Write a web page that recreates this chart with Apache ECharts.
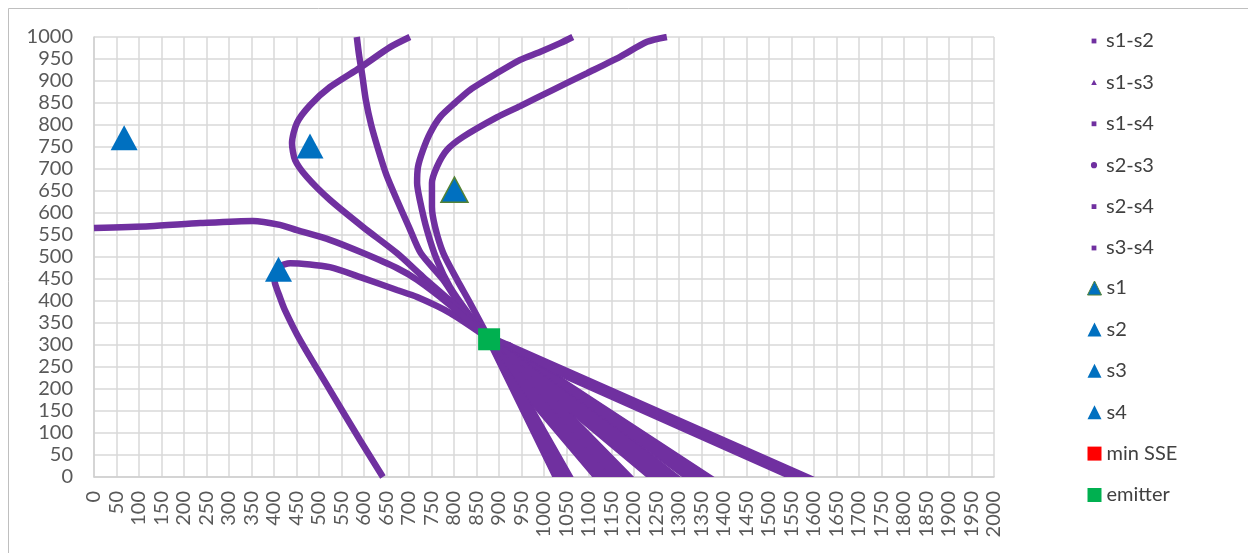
<!DOCTYPE html>
<html>
<head>
<meta charset="utf-8">
<script src="https://cdn.jsdelivr.net/npm/echarts@6/dist/echarts.min.js"></script>
<style>
  html, body { margin: 0; padding: 0; background: #ffffff; }
  #chart { width: 1248px; height: 553px; }
</style>
</head>
<body>
<div id="chart"></div>
<script>
// Hyperbolic position lines (TDOA) for each sensor pair, sensor sites and emitter.

// Axis ticks
const xTicks = { min: 0, max: 2000, step: 50 };
const yTicks = { min: 0, max: 1000, step: 50 };

// Sensor pairs
const pairNames = ['s1-s2', 's1-s3', 's1-s4', 's2-s3', 's2-s4', 's3-s4'];

// Upper-left arm of each pair's position line, [x, y]
const armS1S2 = [[1273,1000],[1229,989],[1169,955],[1096,918],[1020,880],[947,843],[896,818],[820,773],[784,743],[762,705],[751,668],[751,614],[758,568],[776,509],[807,448],[836,395],[878,314]];
const armS1S3 = [[1064,1000],[1036,986],[991,966],[947,948],[896,918],[836,880],[802,850],[769,818],[747,782],[731,743],[720,705],[718,668],[724,630],[740,561],[762,493],[791,432],[831,373],[878,314]];
const armS1S4 = [[584,1000],[589,959],[596,914],[604,857],[616,800],[632,743],[650,686],[673,630],[700,568],[726,509],[776,448],[810,395],[847,341],[878,314]];
const armS2S3 = [[702,1000],[658,977],[591,930],[524,886],[480,845],[451,805],[440,759],[447,720],[473,682],[524,630],[598,568],[673,509],[731,455],[802,391],[878,314]];
const armS2S4 = [[642,0],[591,84],[524,198],[458,311],[424,380],[413,409],[402,441],[400,462],[411,478],[436,486],[524,477],[598,452],[673,425],[718,409],[791,373],[878,314]];
const armS3S4 = [[0,566],[124,570],[236,577],[353,582],[413,573],[451,561],[524,539],[598,509],[673,475],[718,448],[791,391],[878,314]];

// Lower-right arm of each pair's position line: outline of the spread of points, [x, y]
const bandS1S2 = [[873,307],[891,300],[973,164],[1064,0],[1020,0]];
const bandS1S3 = [[880,307],[898,302],[1153,0],[1109,0],[973,164]];
const bandS1S4 = [[889,307],[902,300],[1058,146],[1198,0],[1149,0]];
const bandS2S3 = [[896,307],[913,302],[1198,84],[1302,0],[1229,0],[1058,146]];
const bandS2S4 = [[902,309],[924,305],[1013,243],[1376,0],[1309,0],[1198,84],[913,296]];
const bandS3S4 = [[898,316],[1598,0],[1538,0],[1013,239],[902,302]];

// Sensor sites and emitter
const sensorS1 = [[801,653]];
const sensorS2 = [[67,771]];
const sensorS3 = [[480,752]];
const sensorS4 = [[410,472]];
const minSSE = [];
const emitter = [[878,313]];

const arms = [armS1S2, armS1S3, armS1S4, armS2S3, armS2S4, armS3S4];
const bands = [bandS1S2, bandS1S3, bandS1S4, bandS2S3, bandS2S4, bandS3S4];

const PURPLE = '#7030A0';
const BLUE = '#0070C0';
const GREEN = '#00B050';
const RED = '#FF0000';
const FONT = 'Lato, "Open Sans", sans-serif';

const pairIcons = [
  'path://M0,0M14,14M4.6,4.6h4.8v4.8h-4.8z',
  'path://M0,0M14,14M7,4.3L9.8,9.5H4.2z',
  'path://M0,0M14,14M4.6,4.6h4.8v4.8h-4.8z',
  'path://M0,0M14,14M7,3.9A3.1,3.1 0 1,1 6.99,3.9z',
  'path://M0,0M14,14M4.6,4.6h4.8v4.8h-4.8z',
  'path://M0,0M14,14M4.6,4.6h4.8v4.8h-4.8z'
];

const series = [];
pairNames.forEach((name, i) => {
  series.push({
    type: 'line', name: name, data: arms[i], showSymbol: false, smooth: 0.25,
    lineStyle: { color: PURPLE, width: 6.5, opacity: 1 }, itemStyle: { color: PURPLE, opacity: 1 },
    silent: true, z: 2
  });
  const band = bands[i];
  series.push({
    type: 'custom', name: name, coordinateSystem: 'cartesian2d', clip: true, silent: true, z: 2,
    itemStyle: { color: PURPLE, opacity: 1 },
    data: band,
    renderItem: function (params, api) {
      if (params.dataIndex !== 0) return null;
      return {
        type: 'polygon',
        shape: { points: band.map(p => api.coord(p)) },
        style: { fill: PURPLE, stroke: PURPLE, lineWidth: 1.5, opacity: 1 }
      };
    }
  });
});

function site(name, data, symbol, size, style) {
  return { type: 'scatter', name: name, data: data, symbol: symbol, symbolSize: size,
           itemStyle: Object.assign({ opacity: 1 }, style), silent: true, z: 5 };
}
series.push(site('s1', sensorS1, 'triangle', [27, 25], { color: BLUE, borderColor: '#548235', borderWidth: 1.5 }));
series.push(site('s2', sensorS2, 'triangle', [27, 25], { color: BLUE }));
series.push(site('s3', sensorS3, 'triangle', [27, 25], { color: BLUE }));
series.push(site('s4', sensorS4, 'triangle', [27, 25], { color: BLUE }));
series.push(site('min SSE', minSSE, 'rect', 22, { color: RED }));
series.push(site('emitter', emitter, 'rect', 22, { color: GREEN }));

const legendText = { fontFamily: FONT, fontSize: 20, color: '#404040', lineHeight: 20 };
const plain = v => String(v);

const option = {
  animation: false,
  backgroundColor: '#ffffff',
  grid: { left: 94, right: 254, top: 37, bottom: 76, containLabel: false, outerBoundsMode: 'none' },
  xAxis: {
    type: 'value', min: xTicks.min, max: xTicks.max, interval: xTicks.step,
    axisLine: { show: true, lineStyle: { color: '#d0d0d0', width: 1.5 } },
    axisTick: { show: false },
    axisLabel: { rotate: 90, margin: 14, fontFamily: FONT, fontSize: 20, color: '#595959', hideOverlap: false, formatter: plain },
    splitLine: { show: true, lineStyle: { color: '#d9d9d9', width: 1.5 } }
  },
  yAxis: {
    type: 'value', min: yTicks.min, max: yTicks.max, interval: yTicks.step,
    axisLine: { show: true, lineStyle: { color: '#d0d0d0', width: 1.5 } },
    axisTick: { show: false },
    axisLabel: { margin: 21, fontFamily: FONT, fontSize: 20, color: '#595959', hideOverlap: false, formatter: plain },
    splitLine: { show: true, lineStyle: { color: '#d9d9d9', width: 1.5 } }
  },
  legend: [
    {
      orient: 'vertical', left: 1087, top: 31, padding: 0, itemWidth: 14, itemHeight: 14, itemGap: 21.4,
      selectedMode: false, textStyle: legendText,
      data: pairNames.map((n, i) => ({ name: n, icon: pairIcons[i], itemStyle: { color: PURPLE, opacity: 1 } }))
    },
    {
      orient: 'vertical', left: 1087, top: 278, padding: 0, itemWidth: 14, itemHeight: 14, itemGap: 21.4,
      selectedMode: false, textStyle: legendText,
      data: [
        { name: 's1', icon: 'triangle', itemStyle: { color: BLUE, borderColor: '#548235', borderWidth: 1, opacity: 1 } },
        { name: 's2', icon: 'triangle', itemStyle: { color: BLUE, opacity: 1 } },
        { name: 's3', icon: 'triangle', itemStyle: { color: BLUE, opacity: 1 } },
        { name: 's4', icon: 'triangle', itemStyle: { color: BLUE, opacity: 1 } },
        { name: 'min SSE', icon: 'rect', itemStyle: { color: RED, opacity: 1 } },
        { name: 'emitter', icon: 'rect', itemStyle: { color: GREEN, opacity: 1 } }
      ]
    }
  ],
  graphic: [
    { type: 'rect', shape: { x: 8.5, y: 8.5, width: 1260, height: 600 },
      style: { fill: null, stroke: '#bfbfbf', lineWidth: 1 }, silent: true, z: -1 }
  ],
  series: series
};

const chart = echarts.init(document.getElementById('chart'), null, { renderer: 'canvas' });
chart.setOption(option);
</script>
</body>
</html>
